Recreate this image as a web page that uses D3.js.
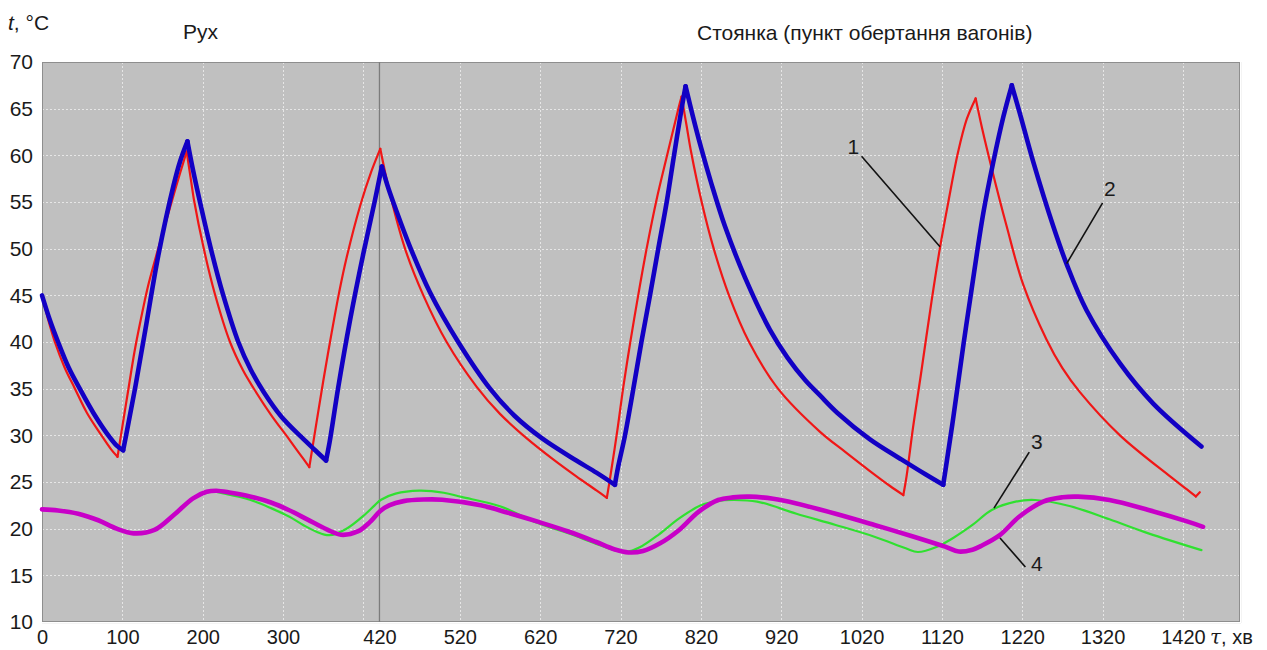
<!DOCTYPE html>
<html>
<head>
<meta charset="utf-8">
<script src="https://cdn.jsdelivr.net/npm/d3@7/dist/d3.min.js"></script>
<style>
  html, body { margin: 0; padding: 0; background: #ffffff; }
  svg { display: block; }
  text { font-family: "Liberation Sans", Arial, sans-serif; fill: #1a1a1a; }
</style>
</head>
<body>
<svg id="chart" width="1267" height="650"></svg>
<script>
// Time, min  /  temperature, °C
const seriesRed = [
  [0,45.0],[8,42.3],[16,40.0],[28,37.3],[41,35.0],[56,32.4],[74,30.0],[86,28.5],[94,27.7],
  [99,30.4],[108,35.2],[115,38.9],[122,42.0],[132,46.0],[143,49.5],[155,53.1],[167,56.7],[180,60.4],
  [186,57.0],[189,55.3],[201.6,49.9],[215,45.2],[234,40.0],[250,37.0],[263,35.1],[285,32.2],[306.5,29.7],[320,28.1],[332.7,26.6],
  [337,28.9],[343,32.1],[350,35.8],[360.5,41.0],[370,45.4],[379,49.0],[396,54.6],[410,58.3],[421,60.7],
  [433,55.9],[451.8,50.0],[474.6,45.0],[503.6,40.0],[541,35.2],[570,32.3],[603,29.7],[635,27.5],[665,25.6],[690,24.1],[703,23.3],
  [707,25.4],[716,30.5],[723.5,35.2],[732.6,40.2],[742,45.0],[752.5,50.0],[765,55.3],[778,60.0],[792,65.0],[796,66.3],
  [802,63.3],[808,60.3],[821,55.0],[836,50.0],[855,45.0],[880,40.0],[916,35.0],[968,30.4],[1000,28.2],[1030,26.2],[1055,24.6],[1072,23.6],
  [1076,25.6],[1084,30.8],[1094,36.6],[1107,44.3],[1117.6,50.1],[1128,55.0],[1140,60.3],[1151,63.9],[1162,66.1],
  [1170,62.9],[1182,58.6],[1200.6,52.4],[1221,46.2],[1250,40.3],[1270,37.2],[1292,34.6],[1341.6,30.0],[1404,25.6],[1425,24.2],[1436,23.45],[1441,23.9]
];

const seriesBlue = [
  [0,45.0],[10,42.3],[20,40.0],[33,37.3],[47,35.0],[64,32.4],[82.5,30.0],[93,28.9],[101,28.4],
  [106,30.6],[116.6,35.4],[130,42.0],[144.8,49.3],[163.5,56.7],[172,59.4],[181,61.5],
  [188,58.4],[196.6,55.0],[211,49.7],[224.9,45.2],[244.3,40.0],[260,37.0],[276.3,34.6],[298,32.0],[323,29.8],[340,28.4],[353.5,27.3],
  [358,29.3],[368.8,35.2],[383.3,42.3],[400,49.5],[414.4,55.2],[423,58.8],
  [431,56.5],[440,54.3],[458,50.2],[483,45.3],[518,40.0],[557.6,35.0],[588,32.1],[622,29.7],[665,27.3],[690,26.0],[713,24.7],
  [717,26.6],[725.6,30.0],[736,35.0],[746,40.0],[756.7,45.0],[767,50.0],[777.5,55.0],[786.6,60.0],[796,65.0],[801,67.4],
  [810,64.2],[820,60.9],[833,57.0],[850,52.4],[875,46.9],[906,41.3],[928,38.3],[950,35.9],[968,34.3],[990,32.4],[1030,29.6],[1070,27.4],[1100,25.8],[1121.6,24.7],
  [1125,26.6],[1134,31.8],[1146.6,39.6],[1155,44.5],[1171.5,53.8],[1184,59.3],[1196.4,64.1],[1207,67.5],
  [1217,64.5],[1233.7,59.3],[1258.6,52.4],[1275,48.4],[1300,43.4],[1341.6,37.7],[1383,33.4],[1443,28.8]
];

const seriesGreen = [
  [0,22.07],[20,21.95],[45,21.6],[70,20.9],[93,20.0],[114,19.5],[140,19.86],[164,21.46],[188,23.2],[209.7,23.96],
  [230,23.7],[259.7,23.07],[285,22.2],[307.4,21.3],[325,20.4],[341,19.7],[357.6,19.3],[379,20.0],[403,21.6],[414,22.5],
  [422,23.1],[440,23.75],[469.6,24.07],[500,23.85],[522,23.4],[570,22.4],[617,20.6],[655,19.5],[689,18.4],[712.6,17.7],
  [727,17.5],[744,18.0],[768,19.4],[793,21.1],[820,22.5],[840,22.95],[861,23.07],[890,22.9],[939,21.6],[987.7,20.4],
  [1036,19.14],[1075,17.9],[1090,17.5],[1114,18.07],[1134,19.0],[1158,20.4],[1182,22.0],[1211.7,22.9],[1236,23.07],
  [1280,22.4],[1328.5,21.0],[1377,19.5],[1443,17.7]
];

const seriesMagenta = [
  [0,22.07],[20,21.95],[45,21.6],[70,20.9],[93,20.0],[114,19.5],[140,19.86],[164,21.46],[188,23.25],[205,23.95],
  [217,24.07],[235,23.85],[260,23.43],[285,22.8],[307,22.0],[330,21.0],[355,19.9],[372,19.35],[393,19.7],[408,20.7],
  [421,21.9],[432,22.5],[450,22.95],[475,23.12],[498,23.1],[546,22.5],[580,21.7],[617,20.75],[655,19.7],[689,18.6],
  [712,17.8],[730,17.45],[748,17.6],[768.7,18.4],[793,19.86],[817,21.8],[841.6,23.07],[860,23.35],[880.5,23.43],[910,23.2],
  [939,22.7],[987.7,21.6],[1036,20.4],[1085,19.14],[1124,18.07],[1141,17.55],[1158,17.75],[1170,18.2],[1192,19.3],
  [1216.5,21.3],[1246,22.9],[1270,23.36],[1289.6,23.43],[1328.5,23.07],[1377,22.0],[1426,20.75],[1445,20.2]
];

const yTickValues = [10,15,20,25,30,35,40,45,50,55,60,65,70];
const xTickValues = [0,100,200,300,420,520,620,720,820,920,1020,1120,1220,1320,1420];
const xGridValues = [100,200,300,400,520,620,720,820,920,1020,1120,1220,1320,1420];
const phaseBoundary = 420;

// curve number, label point, leader start, leader end (min, °C)
const callouts = [
  { label: "1", at: [1009.7, 60.9], from: [1020, 59.9], to: [1117.6, 50.2] },
  { label: "2", at: [1329, 56.5],   from: [1320, 54.9], to: [1275.3, 48.4] },
  { label: "3", at: [1238.3, 29.3], from: [1228.7, 28.2], to: [1184.8, 22.2] },
  { label: "4", at: [1238.3, 16.3], from: [1223.9, 15.9], to: [1192.3, 19.0] }
];

const svg = d3.select("#chart");
const plot = { left: 42, right: 1240, top: 62, bottom: 622 };
const fontSize = "20px";

const x = d3.scaleLinear().domain([0, 1491]).range([plot.left, plot.right]);
const y = d3.scaleLinear().domain([10, 70]).range([plot.bottom, plot.top]);

// plot background
svg.append("rect")
  .attr("x", plot.left).attr("y", plot.top)
  .attr("width", plot.right - plot.left).attr("height", plot.bottom - plot.top)
  .attr("fill", "#c0c0c0");

// grid
const grid = svg.append("g").attr("stroke", "#e6e6e6").attr("stroke-width", 1)
  .attr("stroke-dasharray", "2,2");
grid.selectAll("line.h").data(yTickValues.filter(v => v > 10 && v < 70)).join("line")
  .attr("x1", plot.left).attr("x2", plot.right)
  .attr("y1", d => Math.round(y(d)) + 0.5).attr("y2", d => Math.round(y(d)) + 0.5);
grid.selectAll("line.v").data(xGridValues).join("line")
  .attr("y1", plot.top).attr("y2", plot.bottom)
  .attr("x1", d => Math.round(x(d)) + 0.5).attr("x2", d => Math.round(x(d)) + 0.5);

// frame
svg.append("line").attr("x1", plot.left).attr("x2", plot.right + 1)
  .attr("y1", plot.bottom + 1.5).attr("y2", plot.bottom + 1.5).attr("stroke", "#f4f4f4").attr("stroke-width", 1);
svg.append("line").attr("x1", plot.right + 1.5).attr("x2", plot.right + 1.5)
  .attr("y1", plot.top).attr("y2", plot.bottom + 1).attr("stroke", "#f4f4f4").attr("stroke-width", 1);
svg.append("rect")
  .attr("x", plot.left + 0.5).attr("y", plot.top + 0.5)
  .attr("width", plot.right - plot.left - 1).attr("height", plot.bottom - plot.top - 1)
  .attr("fill", "none").attr("stroke", "#8e8e8e").attr("stroke-width", 1);

// boundary between motion and stop phases
svg.append("line")
  .attr("x1", x(phaseBoundary)).attr("x2", x(phaseBoundary))
  .attr("y1", plot.top).attr("y2", plot.bottom)
  .attr("stroke", "#7c7c7c").attr("stroke-width", 1.3);

// axes
const yAxis = d3.axisLeft(y).tickValues(yTickValues).tickSize(0).tickPadding(9).tickFormat(d3.format("d"));
const gy = svg.append("g").attr("transform", `translate(${plot.left},0)`).call(yAxis);
gy.select(".domain").remove();
gy.selectAll("text").style("font-size", "21px").style("font-family", "'Liberation Sans', Arial, sans-serif")
  .attr("fill", "#1a1a1a");

const xAxis = d3.axisBottom(x).tickValues(xTickValues).tickSize(0).tickPadding(8).tickFormat(d3.format("d"));
const gx = svg.append("g").attr("transform", `translate(0,${plot.bottom})`).call(xAxis);
gx.select(".domain").remove();
gx.selectAll("text").style("font-size", fontSize).style("font-family", "'Liberation Sans', Arial, sans-serif")
  .attr("fill", "#1a1a1a");

// split a sawtooth series at its turning points so each rise and fall is drawn as its own smooth piece
function splitAtTurns(data) {
  const pieces = [];
  let start = 0;
  for (let i = 1; i < data.length - 1; i++) {
    const a = data[i][1] - data[i - 1][1];
    const b = data[i + 1][1] - data[i][1];
    if (a * b < 0) { pieces.push(data.slice(start, i + 1)); start = i; }
  }
  pieces.push(data.slice(start));
  return pieces;
}

const line = d3.line().x(d => x(d[0])).y(d => y(d[1])).curve(d3.curveCatmullRom.alpha(0.5));
const curves = [
  { pieces: [seriesGreen],              color: "#30e030", width: 2.2 },
  { pieces: [seriesMagenta],            color: "#c800c8", width: 4.6 },
  { pieces: splitAtTurns(seriesRed),    color: "#f01616", width: 2.2 },
  { pieces: splitAtTurns(seriesBlue),   color: "#1200c4", width: 4.6 }
];
const cgs = svg.append("g").selectAll("g").data(curves).join("g")
  .attr("fill", "none")
  .attr("stroke", d => d.color)
  .attr("stroke-width", d => d.width)
  .attr("stroke-linejoin", "round")
  .attr("stroke-linecap", "round");
cgs.selectAll("path").data(d => d.pieces).join("path").attr("d", d => line(d));

// callouts
const cg = svg.append("g");
cg.selectAll("line").data(callouts).join("line")
  .attr("x1", d => x(d.from[0])).attr("y1", d => y(d.from[1]))
  .attr("x2", d => x(d.to[0])).attr("y2", d => y(d.to[1]))
  .attr("stroke", "#111").attr("stroke-width", 1.6);
cg.selectAll("text").data(callouts).join("text")
  .attr("x", d => x(d.at[0])).attr("y", d => y(d.at[1]))
  .attr("text-anchor", "middle").attr("dy", "0.36em")
  .style("font-size", "21px")
  .text(d => d.label);

// titles
const yTitle = svg.append("text").attr("x", 8).attr("y", 30).style("font-size", "21px");
yTitle.append("tspan").style("font-style", "italic").text("t");
yTitle.append("tspan").text(", °C");

svg.append("text").attr("x", 183).attr("y", 39).style("font-size", "21px").text("Рух");
svg.append("text").attr("x", 697).attr("y", 40).style("font-size", "21px")
  .text("Стоянка (пункт обертання вагонів)");

const xTitle = svg.append("text").attr("x", 1210).attr("y", 644).style("font-size", fontSize);
xTitle.append("tspan").style("font-family", "'DejaVu Serif', serif").style("font-style", "italic").text("τ");
xTitle.append("tspan").text(", хв");
</script>
</body>
</html>
